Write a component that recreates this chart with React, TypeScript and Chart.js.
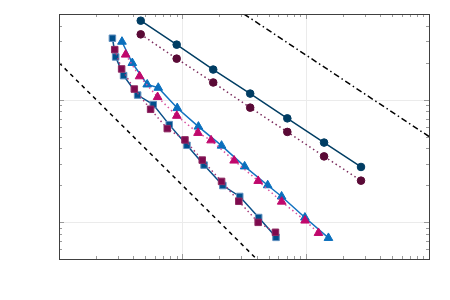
import React, { useEffect, useRef } from "react";
import { Chart, registerables } from "chart.js";

Chart.register(...registerables);

// ---- data ----
const circleX = [4.6, 9.0, 17.8, 35.5, 71, 141, 281];
const circleSolidY = [4.41, 2.81, 1.76, 1.12, 0.703, 0.446, 0.282];
const circleDottedY = [3.41, 2.16, 1.38, 0.86, 0.545, 0.344, 0.218];

const squareSolidX = [2.71, 2.88, 3.34, 4.34, 5.81, 7.83, 10.9, 15.0, 21.3, 29.2, 41.6, 57.5];
const squareSolidY = [3.17, 2.23, 1.57, 1.09, 0.91, 0.625, 0.424, 0.292, 0.199, 0.162, 0.109, 0.0751];

const squareDottedX = [2.83, 3.22, 4.08, 5.53, 7.55, 10.5, 14.5, 20.8, 28.7, 41.2, 56.9];
const squareDottedY = [2.56, 1.78, 1.22, 0.834, 0.58, 0.469, 0.321, 0.215, 0.148, 0.0996, 0.0826];

const triSolidX = [3.24, 3.93, 5.19, 6.38, 9.09, 13.5, 20.8, 32.0, 49.2, 63.8, 98.6, 153];
const triSolidY = [2.97, 1.99, 1.33, 1.25, 0.853, 0.602, 0.421, 0.285, 0.2, 0.162, 0.109, 0.0743];

const triDottedX = [3.47, 4.5, 6.3, 9.02, 13.4, 17.1, 26.3, 41.2, 63.9, 98.9, 127];
const triDottedY = [2.33, 1.55, 1.05, 0.738, 0.535, 0.465, 0.318, 0.217, 0.147, 0.103, 0.0816];

// reference slopes (end points)
const refDashedX = [1, 40];
const refDashedY = [2, 0.05];
const refDashDotX = [31.6, 1000];
const refDashDotY = [5, 0.5];

const xRange = [1, 1000];
const yRange = [0.05, 5];

const zip = (xs: number[], ys: number[]) => xs.map((x, i) => ({ x, y: ys[i] }));

const isDecade = (v: number) => {
  const l = Math.log10(v);
  return Math.abs(l - Math.round(l)) < 1e-9;
};

const logTickValues = (min: number, max: number) => {
  const out: number[] = [];
  const e0 = Math.floor(Math.log10(min));
  const e1 = Math.ceil(Math.log10(max));
  for (let e = e0; e <= e1; e++) {
    for (let m = 1; m <= 9; m++) {
      const v = m * Math.pow(10, e);
      if (v >= min * (1 - 1e-9) && v <= max * (1 + 1e-9)) out.push(v);
    }
  }
  return out;
};

const framePlugin = {
  id: "frame",
  beforeDatasetsDraw(chart: any) {
    const { ctx, chartArea, scales } = chart;
    const { left, right, top, bottom } = chartArea;
    ctx.save();
    ctx.strokeStyle = "#ebebeb";
    ctx.lineWidth = 1;
    for (const v of logTickValues(xRange[0], xRange[1])) {
      if (!isDecade(v)) continue;
      const p = Math.round(scales.x.getPixelForValue(v)) + 0.5;
      if (p <= left + 1 || p >= right - 1) continue;
      ctx.beginPath();
      ctx.moveTo(p, top);
      ctx.lineTo(p, bottom);
      ctx.stroke();
    }
    for (const v of logTickValues(yRange[0], yRange[1])) {
      if (!isDecade(v)) continue;
      const p = Math.round(scales.y.getPixelForValue(v)) + 0.5;
      if (p <= top + 1 || p >= bottom - 1) continue;
      ctx.beginPath();
      ctx.moveTo(left, p);
      ctx.lineTo(right, p);
      ctx.stroke();
    }
    ctx.restore();
  },
  afterDraw(chart: any) {
    const { ctx, chartArea, scales } = chart;
    const { left, right, top, bottom } = chartArea;
    ctx.save();
    ctx.strokeStyle = "#9a9a9a";
    ctx.lineWidth = 1;
    for (const v of logTickValues(xRange[0], xRange[1])) {
      const p = Math.round(scales.x.getPixelForValue(v)) + 0.5;
      const len = isDecade(v) ? 5 : 3;
      ctx.beginPath();
      ctx.moveTo(p, bottom);
      ctx.lineTo(p, bottom - len);
      ctx.moveTo(p, top);
      ctx.lineTo(p, top + len);
      ctx.stroke();
    }
    for (const v of logTickValues(yRange[0], yRange[1])) {
      const p = Math.round(scales.y.getPixelForValue(v)) + 0.5;
      const len = isDecade(v) ? 5 : 3;
      ctx.beginPath();
      ctx.moveTo(left, p);
      ctx.lineTo(left + len, p);
      ctx.moveTo(right, p);
      ctx.lineTo(right - len, p);
      ctx.stroke();
    }
    ctx.strokeStyle = "#404040";
    ctx.lineWidth = 1;
    ctx.strokeRect(Math.round(left) + 0.5, Math.round(top) + 0.5, Math.round(right - left), Math.round(bottom - top));
    ctx.restore();
  },
};

export default function App() {
  const ref = useRef<HTMLCanvasElement | null>(null);

  useEffect(() => {
    if (!ref.current) return;
    const chart = new Chart(ref.current, {
      type: "line",
      data: {
        datasets: [
          {
            data: zip(refDashedX, refDashedY),
            borderColor: "#000000",
            borderWidth: 1.5,
            borderDash: [4, 4],
            pointRadius: 0,
          },
          {
            data: zip(refDashDotX, refDashDotY),
            borderColor: "#000000",
            borderWidth: 1.5,
            borderDash: [6, 3, 1.5, 3],
            pointRadius: 0,
          },
          {
            data: zip(circleX, circleDottedY),
            borderColor: "#7a2a5c",
            borderWidth: 1.5,
            borderDash: [1.5, 3],
            pointStyle: "circle",
            pointRadius: 3.8,
            pointBackgroundColor: "#5a0a36",
            pointBorderColor: "#5a0a36",
            pointBorderWidth: 1,
          },
          {
            data: zip(circleX, circleSolidY),
            borderColor: "#003d63",
            borderWidth: 1.5,
            pointStyle: "circle",
            pointRadius: 3.8,
            pointBackgroundColor: "#003d63",
            pointBorderColor: "#003d63",
            pointBorderWidth: 1,
          },
          {
            data: zip(squareDottedX, squareDottedY),
            borderColor: "#a33a7a",
            borderWidth: 1.5,
            borderDash: [1.5, 3],
            pointStyle: "rect",
            pointRadius: 4.6,
            pointBackgroundColor: "#7d0a4e",
            pointBorderColor: "#8e2a62",
            pointBorderWidth: 1,
          },
          {
            data: zip(squareSolidX, squareSolidY),
            borderColor: "#0a4f88",
            borderWidth: 1.5,
            pointStyle: "rect",
            pointRadius: 4.6,
            pointBackgroundColor: "#00508c",
            pointBorderColor: "#5f8fbf",
            pointBorderWidth: 1,
          },
          {
            data: zip(triDottedX, triDottedY),
            borderColor: "#d9509e",
            borderWidth: 1.5,
            borderDash: [1.5, 3],
            pointStyle: "triangle",
            pointRadius: 5,
            pointBackgroundColor: "#c0086c",
            pointBorderColor: "#c0086c",
            pointBorderWidth: 1,
          },
          {
            data: zip(triSolidX, triSolidY),
            borderColor: "#1272c0",
            borderWidth: 1.5,
            pointStyle: "triangle",
            pointRadius: 5,
            pointBackgroundColor: "#0a6fbd",
            pointBorderColor: "#0a6fbd",
            pointBorderWidth: 1,
          },
        ],
      },
      options: {
        responsive: false,
        animation: false,
        layout: { padding: { left: 59, right: 21, top: 14, bottom: 41 } },
        plugins: { legend: { display: false }, tooltip: { enabled: false } },
        elements: { line: { tension: 0 } },
        scales: {
          x: {
            type: "logarithmic",
            display: false,
            min: xRange[0],
            max: xRange[1],
          },
          y: {
            type: "logarithmic",
            display: false,
            min: yRange[0],
            max: yRange[1],
          },
        },
      },
      plugins: [framePlugin],
    });
    return () => chart.destroy();
  }, []);

  return (
    <div style={{ position: "absolute", left: 0, top: 0, width: 450, height: 300, background: "#fff" }}>
      <canvas ref={ref} width={450} height={300} style={{ display: "block", width: 450, height: 300 }} />
    </div>
  );
}
